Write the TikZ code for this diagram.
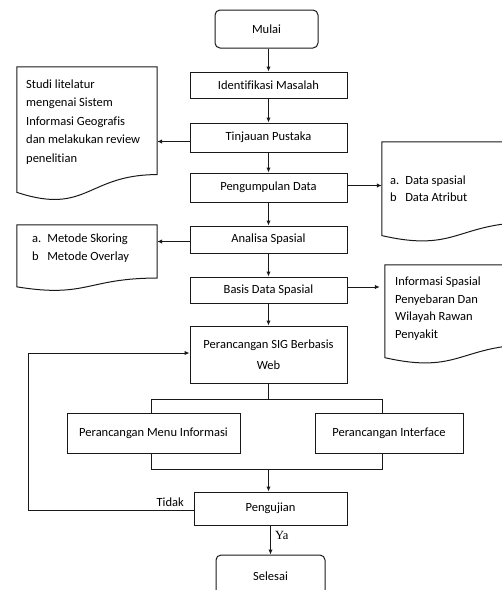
\documentclass[tikz,border=0pt]{standalone}
\usepackage{fontspec}
\setmainfont{Carlito}[Ligatures=CommonOff]
\newfontfamily\yafont{Liberation Serif}
\usetikzlibrary{arrows.meta,calc}
\tikzset{
  line/.style={draw=black!90, line width=1pt},
  arr/.style={line, -{Latex[length=5pt,width=4.5pt]}},
  procbox/.style={line, rectangle, inner sep=0pt, font=\fontsize{12.5}{15}\selectfont},
  termbox/.style={procbox, rounded corners=5pt},
  docarea/.style={rectangle, inner sep=0pt, draw=none},
  doctext/.style={anchor=north west, inner sep=0pt, align=left},
  lbl/.style={inner sep=1pt, font=\fontsize{12.5}{15}\selectfont}
}
\newcommand\docoutline[1]{%
  \path[line] let \p1=(#1.north west), \p2=(#1.south east) in
    (\x1,\y1) -- (\x2,\y1) -- (\x2,{\y1+0.802*(\y2-\y1)})
    .. controls ({0.5*(\x1+\x2)},{\y1+0.802*(\y2-\y1)}) and ({0.5*(\x1+\x2)},{\y1+1.107*(\y2-\y1)}) ..
    (\x1,{\y1+0.934*(\y2-\y1)}) -- cycle;}
\begin{document}
\begin{tikzpicture}[x=1pt,y=-1pt]
\useasboundingbox (0,0) rectangle (502,590);
\clip (0,0) rectangle (502,590);
% main column
\node[termbox, minimum width=103pt, minimum height=38pt] (mulai) at (266.5,29) {Mulai};
\node[procbox, minimum width=157pt, minimum height=26pt] (ident) at (268.5,85) {Identifikasi Masalah};
\node[procbox, minimum width=157pt, minimum height=29pt] (tinj) at (268.5,137.5) {Tinjauan Pustaka};
\node[procbox, minimum width=157pt, minimum height=29pt] (kump) at (268.5,187.5) {Pengumpulan Data};
\node[procbox, minimum width=157pt, minimum height=27pt] (anal) at (268.5,239.5) {Analisa Spasial};
\node[procbox, minimum width=157pt, minimum height=26pt] (basis) at (268.5,290) {Basis Data Spasial};
\node[procbox, minimum width=157pt, minimum height=57pt, align=center, font=\fontsize{12.5}{21}\selectfont] (sig) at (268.5,354.5) {Perancangan SIG Berbasis\\Web};
\node[procbox, minimum width=173pt, minimum height=40pt] (menu) at (153.5,433) {Perancangan Menu Informasi};
\node[procbox, minimum width=148pt, minimum height=40pt] (inter) at (389,433) {Perancangan Interface};
\node[procbox, minimum width=153pt, minimum height=33pt] (uji) at (270.5,508.5) {Pengujian};
\node[termbox, minimum width=109pt, minimum height=42pt] (selesai) at (270.5,576) {Selesai};
% documents
\node[docarea, minimum width=140pt, minimum height=134pt] (studi) at (87,134) {};
\docoutline{studi}
\node[doctext, font=\fontsize{12.5}{18.5}\selectfont] (studit) at (26,79.5) {Studi litelatur\\mengenai Sistem\\Informasi Geografis\\dan melakukan review\\penelitian};
\node[docarea, minimum width=140pt, minimum height=66pt] (metode) at (87,258) {};
\docoutline{metode}
\node[doctext, font=\fontsize{12.5}{18.5}\selectfont] (metodet) at (32,233.5) {a.\hspace{6pt}Metode Skoring\\b\hspace{8.5pt}Metode Overlay};
\node[docarea, minimum width=150pt, minimum height=100pt] (data) at (457,192) {};
\docoutline{data}
\node[doctext, font=\fontsize{12.5}{17}\selectfont] (datat) at (390,175.5) {a.\hspace{6pt}Data spasial\\b\hspace{8.5pt}Data Atribut};
\node[docarea, minimum width=150pt, minimum height=99pt] (info) at (460,314.5) {};
\docoutline{info}
\node[doctext, font=\fontsize{12.5}{17.7}\selectfont] (infot) at (395,276.5) {Informasi Spasial\\Penyebaran Dan\\Wilayah Rawan\\Penyakit};
% coordinates
\coordinate (splitc) at (268.5,399);
\coordinate (splitl) at (151,399);
\coordinate (splitr) at (382,399);
\coordinate (mergel) at (151,469);
\coordinate (merger) at (382,469);
\coordinate (mergec) at (268.5,469);
\coordinate (fbl) at (28,510);
\coordinate (fbt) at (28,353);
% connectors
\draw[arr] (mulai.south -| ident.north) -- (ident.north);
\draw[arr] (ident) -- (tinj);
\draw[arr] (tinj) -- (kump);
\draw[arr] (kump) -- (anal);
\draw[arr] (anal) -- (basis);
\draw[arr] (basis) -- (sig);
\draw[arr] ($(tinj.west)+(0,4)$) -- ($(studi.east |- tinj.west)+(0,4)$);
\draw[arr] ($(kump.east)+(0,-2)$) -- ($(data.west |- kump.east)+(0,-2)$);
\draw[arr] ($(anal.west)+(0,2)$) -- ($(metode.east |- anal.west)+(0,2)$);
\draw[arr] ($(basis.east)+(0,-3)$) -- ($(info.west |- basis.east)+(-5,-3)$);
\draw[line] (sig.south) -- (splitc);
\draw[line] (splitl) -- (splitr);
\draw[line] (splitl) -- (menu.north -| splitl);
\draw[line] (splitr) -- (inter.north -| splitr);
\draw[line] (menu.south -| mergel) -- (mergel) -- (merger) -- (inter.south -| merger);
\draw[arr] (mergec) -- (uji.north -| mergec);
\draw[arr] (uji.west |- fbl) -- (fbl) -- (fbt) -- (sig.west |- fbt);
\node[lbl, anchor=south east] (tidak) at (185,508) {Tidak};
\draw[arr] (uji.south -| selesai.north) -- (selesai.north);
\node[lbl, anchor=west, font=\yafont\fontsize{12.5}{15}\selectfont] (ya) at (274,535) {Ya};
\end{tikzpicture}
\end{document}
